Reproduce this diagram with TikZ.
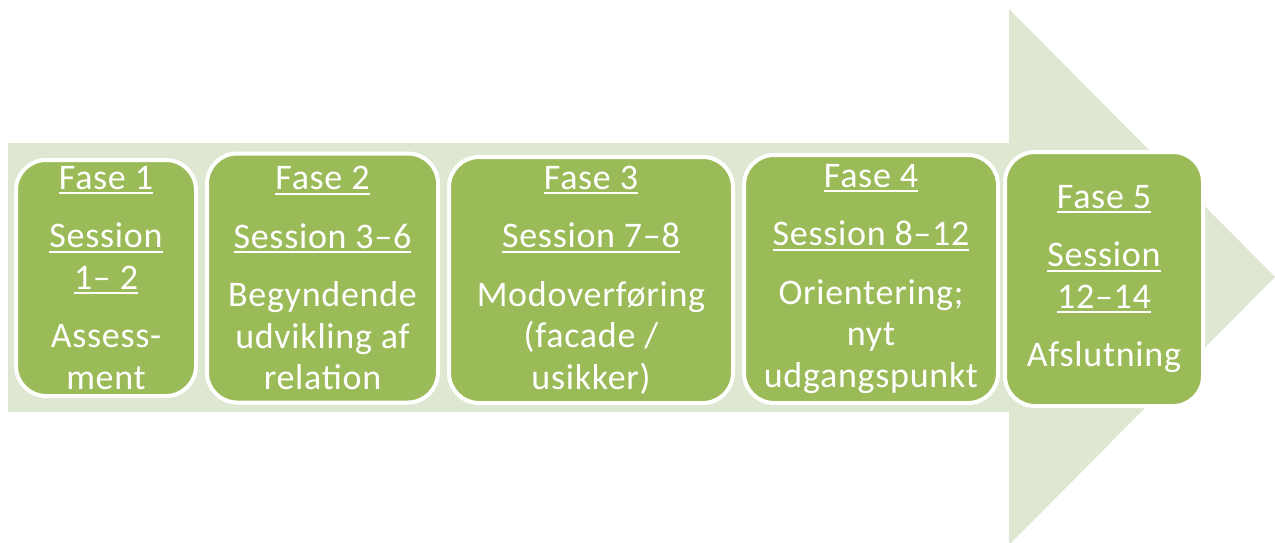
\documentclass[tikz,border=0pt]{standalone}
\usepackage{fontspec}
\setmainfont{Carlito}[LetterSpace=2]
\usetikzlibrary{positioning}
\definecolor{FaseGreen}{RGB}{155,187,89}
\definecolor{ArrowGreen}{RGB}{222,231,209}
\newcommand{\ulabel}[1]{\leavevmode\setbox0\hbox{#1}\rlap{\vrule width\wd0 height -3pt depth 5pt}\box0}
\tikzset{
  fasebox/.style={draw=white,line width=4pt,fill=FaseGreen,rounded corners=30pt,align=center,text=white,font=\fontsize{36}{41.5}\selectfont,inner sep=0pt},
  bigarrow/.style={fill=ArrowGreen,draw=none}
}

\begin{document}
\begin{tikzpicture}[x=1pt,y=-1pt,node distance=7pt]
\useasboundingbox (0,0) rectangle (1275,543);
\fill[bigarrow] (8,143) -- (1009,143) -- (1009,9) -- (1275,277) -- (1009,545) -- (1009,412) -- (8,412) -- cycle;

\node[fasebox,minimum width=180pt,minimum height=236pt] (f1) at (106,278) {\ulabel{Fase 1}\\[17pt] \ulabel{Session}\\ \ulabel{1– 2}\\[17pt] Assess-\\ment};
\node[fasebox,minimum width=231pt,minimum height=249pt,right=of f1] (f2) {\ulabel{Fase 2}\\[17pt] \ulabel{Session 3–6}\\[17pt] Begyndende\\udvikling af\\relation};
\node[fasebox,minimum width=284pt,minimum height=246pt,right=of f2,yshift=-2pt] (f3) {\ulabel{Fase 3}\\[17pt] \ulabel{Session 7–8}\\[17pt] Modoverføring\\(facade /\\usikker)};
\node[fasebox,minimum width=254pt,minimum height=248pt,right=of f3,yshift=1pt] (f4) {\ulabel{Fase 4}\\[17pt] \ulabel{Session 8–12}\\[17pt] Orientering;\\nyt\\udgangspunkt};
\node[fasebox,minimum width=198pt,minimum height=254pt,right=3pt of f4] (f5) {\ulabel{Fase 5}\\[17pt] \ulabel{Session}\\ \ulabel{12–14}\\[17pt] Afslutning};
\end{tikzpicture}
\end{document}
